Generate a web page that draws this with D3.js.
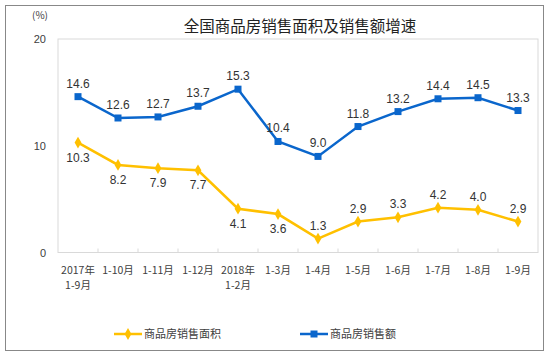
<!DOCTYPE html>
<html><head><meta charset="utf-8">
<script src="https://cdn.jsdelivr.net/npm/d3@7"></script>
<style>body{margin:0;background:#fff}svg{display:block}</style>
</head><body>
<script>
const categories = [["2017年","1-9月"],["1-10月"],["1-11月"],["1-12月"],["2018年","1-2月"],["1-3月"],["1-4月"],["1-5月"],["1-6月"],["1-7月"],["1-8月"],["1-9月"]];
const areaGrowth = [10.3, 8.2, 7.9, 7.7, 4.1, 3.6, 1.3, 2.9, 3.3, 4.2, 4.0, 2.9];
const salesGrowth = [14.6, 12.6, 12.7, 13.7, 15.3, 10.4, 9.0, 11.8, 13.2, 14.4, 14.5, 13.3];
const areaLabelPos = ["below","below","below","below","below","below","above","above","above","above","above","above"];
const yTicks = [0, 10, 20];
const seriesNames = ["商品房销售面积", "商品房销售额"];
const title = "全国商品房销售面积及销售额增速";

(function(){
const W = 550, H = 355;
const svg = d3.select("body").append("svg").attr("width", W).attr("height", H);
svg.append("rect").attr("x", 5.5).attr("y", 5.5).attr("width", 538).attr("height", 345)
  .attr("fill", "#fff").attr("stroke", "#888").attr("stroke-width", 1);

const pL = 58, pR = 538, pT = 39, pB = 252.5;
const x = d3.scaleBand().domain(d3.range(categories.length)).range([pL, pR]);
const y = d3.scaleLinear().domain([0, 20]).range([pB, pT]);
const cx = i => x(i) + x.bandwidth() / 2;

svg.append("rect").attr("x", pL).attr("y", pT).attr("width", pR - pL).attr("height", pB - pT)
  .attr("fill", "none").attr("stroke", "#d9d9d9").attr("stroke-width", 1);

const boundaries = d3.range(1, categories.length).map(i => x(i));
svg.selectAll(".xt").data(boundaries).enter().append("line")
  .attr("x1", d => d).attr("x2", d => d).attr("y1", pB).attr("y2", pB - 4)
  .attr("stroke", "#d9d9d9");

const txtFont = "'Liberation Sans', Arial, sans-serif";
svg.selectAll(".yl").data(yTicks).enter().append("text")
  .attr("x", 46).attr("y", d => y(d) + 4).attr("text-anchor", "end")
  .attr("font-family", txtFont).attr("font-size", 11).attr("fill", "#404040").text(d => d);
svg.append("text").attr("x", 40).attr("y", 19).attr("text-anchor", "middle")
  .attr("font-family", "'Noto Sans CJK SC', sans-serif").attr("font-size", 10).attr("fill", "#404040").text("(%)");

svg.append("text").attr("x", 300).attr("y", 32).attr("text-anchor", "middle")
  .attr("font-family", "'Noto Sans CJK SC', sans-serif").attr("font-size", 15.5).attr("fill", "#222").text(title);

const xLines = [];
categories.forEach((d, i) => d.forEach((t, j) => xLines.push({t, i, j})));
svg.selectAll(".xl").data(xLines).enter().append("text")
  .attr("x", d => cx(d.i)).attr("y", d => 273.5 + d.j * 15.5)
  .attr("text-anchor", "middle").attr("font-family", "'Noto Sans CJK SC', sans-serif")
  .attr("font-size", 10.5).attr("fill", "#404040").text(d => d.t);

const blue = "#0a66cc", yellow = "#ffc000";
const line = d3.line().x((d, i) => cx(i)).y(d => y(d));

svg.append("path").datum(areaGrowth).attr("d", line).attr("fill", "none").attr("stroke", yellow).attr("stroke-width", 2.5);
const diamond = d3.symbol().type(d3.symbolDiamond).size(40);
svg.selectAll(".ym").data(areaGrowth).enter().append("path")
  .attr("d", diamond).attr("transform", (d, i) => `translate(${cx(i)},${y(d)})`).attr("fill", yellow);

svg.append("path").datum(salesGrowth).attr("d", line).attr("fill", "none").attr("stroke", blue).attr("stroke-width", 2.5);
svg.selectAll(".bm").data(salesGrowth).enter().append("rect")
  .attr("x", (d, i) => cx(i) - 3.5).attr("y", d => y(d) - 3.5).attr("width", 7).attr("height", 7).attr("fill", blue);

svg.selectAll(".bl").data(salesGrowth).enter().append("text")
  .attr("x", (d, i) => cx(i)).attr("y", d => y(d) - 9).attr("text-anchor", "middle")
  .attr("font-family", txtFont).attr("font-size", 12).attr("fill", "#333").text(d => d.toFixed(1));
svg.selectAll(".al").data(areaGrowth).enter().append("text")
  .attr("x", (d, i) => cx(i)).attr("y", (d, i) => areaLabelPos[i] === "below" ? y(d) + 19 : y(d) - 9)
  .attr("text-anchor", "middle")
  .attr("font-family", txtFont).attr("font-size", 12).attr("fill", "#333").text(d => d.toFixed(1));

const lg = [{name: seriesNames[0], color: yellow, x: 114, type: "d"}, {name: seriesNames[1], color: blue, x: 300, type: "s"}];
lg.forEach(l => {
  const ly = 334;
  svg.append("line").attr("x1", l.x).attr("x2", l.x + 28).attr("y1", ly).attr("y2", ly).attr("stroke", l.color).attr("stroke-width", 2.5);
  if (l.type === "d") svg.append("path").attr("d", diamond).attr("transform", `translate(${l.x + 14},${ly})`).attr("fill", l.color);
  else svg.append("rect").attr("x", l.x + 10.5).attr("y", ly - 3.5).attr("width", 7).attr("height", 7).attr("fill", l.color);
  svg.append("text").attr("x", l.x + 30).attr("y", ly + 4).attr("font-family", "'Noto Sans CJK SC', sans-serif")
    .attr("font-size", 11).attr("fill", "#404040").text(l.name);
});
})();
</script>
</body></html>
